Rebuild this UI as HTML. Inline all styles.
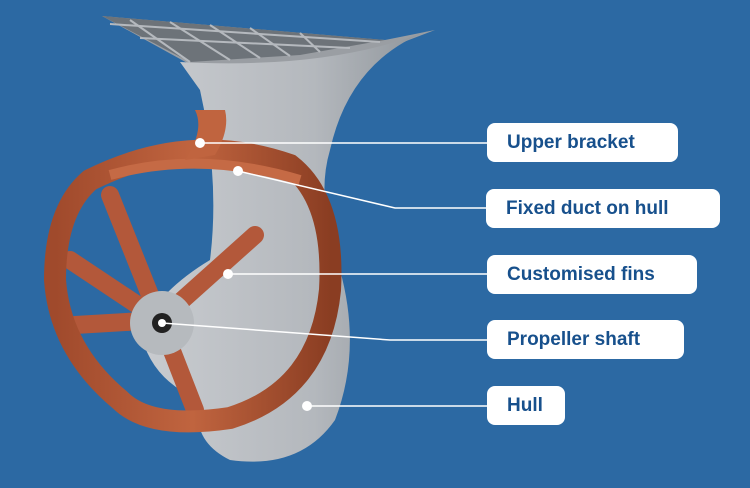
<!DOCTYPE html>
<html><head><style>
body{margin:0;width:750px;height:488px;background:#2c69a3;overflow:hidden;position:relative;font-family:"Liberation Sans",sans-serif}
.b{position:absolute;background:#fff;border-radius:8px;color:#17508c;font-weight:bold;font-size:19px;line-height:39px;padding-left:20px;box-sizing:border-box;height:39px}
</style></head><body>
<svg width="750" height="488" style="position:absolute;left:0;top:0">
<defs>
<linearGradient id="g" x1="0" x2="1"><stop offset="0" stop-color="#c9ccd0"/><stop offset="0.6" stop-color="#b4b8bd"/><stop offset="1" stop-color="#8e949a"/></linearGradient>
<linearGradient id="r" x1="0" x2="1"><stop offset="0" stop-color="#a04a2c"/><stop offset="0.5" stop-color="#c0643f"/><stop offset="1" stop-color="#8a3d22"/></linearGradient>
</defs>
<polygon points="102,16 385,40 435,30 330,70 200,70" fill="#9a9ea3"/>
<polygon points="102,16 385,40 300,55 190,62" fill="#6d7379"/>
<g stroke="#b5b9be" stroke-width="2">
<line x1="130" y1="20" x2="190" y2="62"/><line x1="170" y1="22" x2="230" y2="60"/><line x1="210" y1="25" x2="260" y2="58"/><line x1="250" y1="28" x2="290" y2="56"/><line x1="300" y1="33" x2="320" y2="52"/>
<line x1="110" y1="24" x2="380" y2="42"/><line x1="140" y1="38" x2="350" y2="48"/>
</g>
<path d="M180,62 Q330,70 430,30 Q350,60 330,150 Q315,200 340,270 Q362,350 335,420 Q300,470 230,460 Q190,440 200,400 Q150,380 140,330 Q160,290 210,260 Q220,180 200,90 Z" fill="url(#g)"/>
<g stroke="#b3583a" stroke-width="18" stroke-linecap="round">
<line x1="160" y1="320" x2="110" y2="195"/><line x1="160" y1="320" x2="70" y2="260"/><line x1="160" y1="320" x2="75" y2="325"/><line x1="160" y1="320" x2="255" y2="235"/><line x1="160" y1="320" x2="195" y2="410"/>
</g>
<path d="M90,180 Q190,130 290,165 Q335,200 330,290 Q320,390 230,418 Q150,430 120,400 Q60,350 55,280 Q55,210 90,180 Z" fill="none" stroke="url(#r)" stroke-width="22"/>
<path d="M110,175 Q200,150 300,180" fill="none" stroke="#c56a45" stroke-width="10"/>
<circle cx="162" cy="323" r="32" fill="#b6babe"/>
<circle cx="162" cy="323" r="10" fill="#222"/>
<path d="M195,110 Q205,130 185,160 L215,155 Q230,130 225,110 Z" fill="#c0643f"/>
<g stroke="#fff" stroke-width="1.5" fill="none">
<line x1="200" y1="143" x2="487" y2="143"/>
<polyline points="238,171 395,208 487,208"/>
<line x1="228" y1="274" x2="487" y2="274"/>
<polyline points="162,323 390,340 487,340"/>
<line x1="307" y1="406" x2="487" y2="406"/>
</g>
<g fill="#fff"><circle cx="200" cy="143" r="5"/><circle cx="238" cy="171" r="5"/><circle cx="228" cy="274" r="5"/><circle cx="162" cy="323" r="4"/><circle cx="307" cy="406" r="5"/></g>
</svg>
<div class="b" style="left:487px;top:123px;width:191px">Upper bracket</div>
<div class="b" style="left:486px;top:189px;width:234px">Fixed duct on hull</div>
<div class="b" style="left:487px;top:255px;width:210px">Customised fins</div>
<div class="b" style="left:487px;top:320px;width:197px">Propeller shaft</div>
<div class="b" style="left:487px;top:386px;width:78px">Hull</div>
</body></html>
